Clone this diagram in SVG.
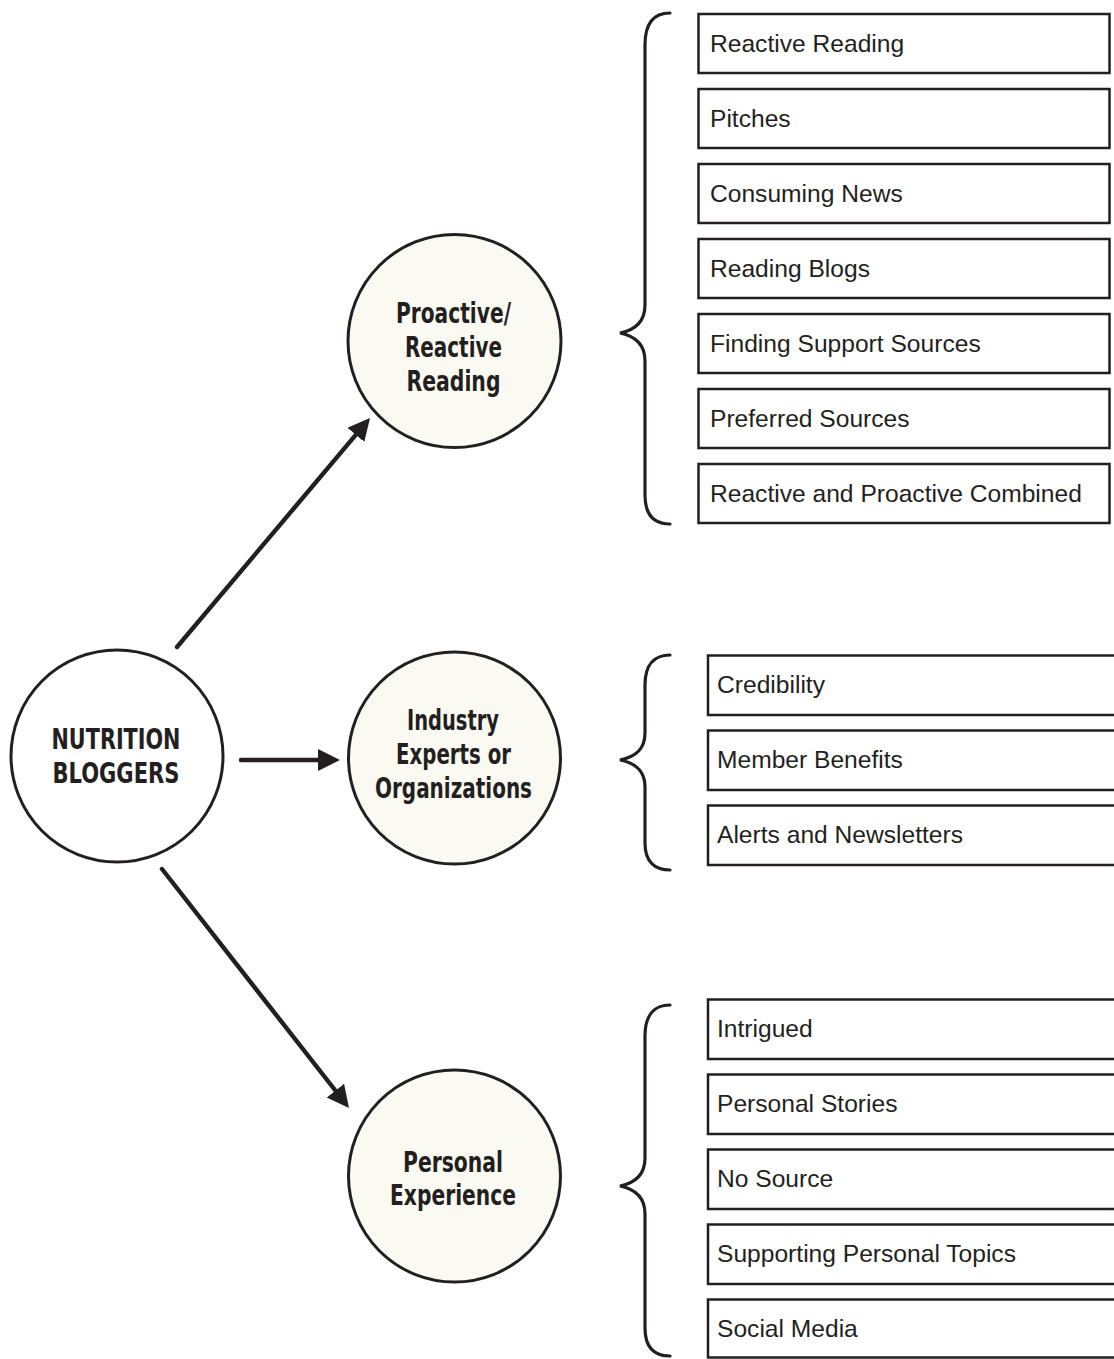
<svg xmlns="http://www.w3.org/2000/svg" width="1114" height="1359" viewBox="0 0 1114 1359">
<style>
.bg{fill:#ffffff}
.circ{fill:#fbfaf2;stroke:#231f20;stroke-width:3}
.circw{fill:#ffffff;stroke:#231f20;stroke-width:3}
.ct{font-family:"Liberation Sans Narrow","DejaVu Sans Condensed","Liberation Sans",sans-serif;font-weight:bold;font-size:28px;fill:#231f20;text-anchor:middle}
.box{fill:#ffffff;stroke:#231f20;stroke-width:2.5}
.bt{font-family:"Liberation Sans",Arial,sans-serif;font-size:24.6px;fill:#231f20}
.brace{fill:none;stroke:#231f20;stroke-width:3.2;stroke-linecap:round}
.arr{stroke:#231f20;stroke-width:4.4;stroke-linecap:round;fill:none}
</style>
<defs>
<marker id="ah" markerUnits="userSpaceOnUse" markerWidth="24" markerHeight="24" refX="10" refY="11" orient="auto">
<path d="M0,0 L22,11 L0,22 z" fill="#231f20"/>
</marker>
</defs>
<rect class="bg" x="0" y="0" width="1114" height="1359"/>

<g id="connectors">
<line class="arr" x1="177" y1="647" x2="362.3" y2="427.2" marker-end="url(#ah)"/>
<line class="arr" x1="241" y1="760" x2="328" y2="760" marker-end="url(#ah)"/>
<line class="arr" x1="162" y1="869" x2="341.6" y2="1098.5" marker-end="url(#ah)"/>
</g>

<g id="node-nutrition">
<circle class="circw" cx="117" cy="756" r="106"/>
<text class="ct" x="116" y="749" textLength="129" lengthAdjust="spacingAndGlyphs">NUTRITION</text>
<text class="ct" x="116" y="783" textLength="127" lengthAdjust="spacingAndGlyphs">BLOGGERS</text>
</g>

<g id="node-proactive">
<circle class="circ" cx="454.5" cy="341" r="106.5"/>
<text class="ct" x="453.5" y="323" textLength="115" lengthAdjust="spacingAndGlyphs">Proactive/</text>
<text class="ct" x="453.5" y="357" textLength="97" lengthAdjust="spacingAndGlyphs">Reactive</text>
<text class="ct" x="453.5" y="391" textLength="94" lengthAdjust="spacingAndGlyphs">Reading</text>
</g>

<g id="node-industry">
<circle class="circ" cx="454.5" cy="758" r="106"/>
<text class="ct" x="453" y="730" textLength="92" lengthAdjust="spacingAndGlyphs">Industry</text>
<text class="ct" x="453.5" y="764" textLength="115" lengthAdjust="spacingAndGlyphs">Experts or</text>
<text class="ct" x="453.5" y="798" textLength="157" lengthAdjust="spacingAndGlyphs">Organizations</text>
</g>

<g id="node-personal">
<circle class="circ" cx="454.5" cy="1176" r="106"/>
<text class="ct" x="453" y="1172" textLength="100" lengthAdjust="spacingAndGlyphs">Personal</text>
<text class="ct" x="453" y="1205" textLength="126" lengthAdjust="spacingAndGlyphs">Experience</text>
</g>

<g id="brace-1">
<path class="brace" d="M670,13 C655,13 645,22 645,45 L645,305 C645,322 635,330 620,333 C635,336 645,344 645,361 L645,495 C645,516 655,524 670,524"/>
</g>
<g id="brace-2">
<path class="brace" d="M670,655 C655,655 645,664 645,685 L645,733 C645,750 635,757 620,760 C635,763 645,770 645,787 L645,843 C645,862 655,870 670,870"/>
</g>
<g id="brace-3">
<path class="brace" d="M670,1005 C655,1005 645,1014 645,1036 L645,1158 C645,1175 635,1183 620,1186 C635,1189 645,1197 645,1214 L645,1328 C645,1348 655,1356 670,1356"/>
</g>

<g id="group-1-items">
<g id="item-reactive-reading"><rect class="box" x="698.5" y="14" width="411" height="59"/><text class="bt" x="710" y="52">Reactive Reading</text></g>
<g id="item-pitches"><rect class="box" x="698.5" y="89" width="411" height="59"/><text class="bt" x="710" y="127">Pitches</text></g>
<g id="item-consuming-news"><rect class="box" x="698.5" y="164" width="411" height="59"/><text class="bt" x="710" y="202">Consuming News</text></g>
<g id="item-reading-blogs"><rect class="box" x="698.5" y="239" width="411" height="59"/><text class="bt" x="710" y="277">Reading Blogs</text></g>
<g id="item-finding-support"><rect class="box" x="698.5" y="314" width="411" height="59"/><text class="bt" x="710" y="352">Finding Support Sources</text></g>
<g id="item-preferred-sources"><rect class="box" x="698.5" y="389" width="411" height="59"/><text class="bt" x="710" y="427">Preferred Sources</text></g>
<g id="item-combined"><rect class="box" x="698.5" y="464" width="411" height="59"/><text class="bt" x="710" y="502">Reactive and Proactive Combined</text></g>
</g>

<g id="group-2-items">
<g id="item-credibility"><rect class="box" x="708" y="655.5" width="420" height="59.5"/><text class="bt" x="717" y="693">Credibility</text></g>
<g id="item-member-benefits"><rect class="box" x="708" y="730.5" width="420" height="59.5"/><text class="bt" x="717" y="768">Member Benefits</text></g>
<g id="item-alerts"><rect class="box" x="708" y="805.5" width="420" height="59.5"/><text class="bt" x="717" y="843">Alerts and Newsletters</text></g>
</g>

<g id="group-3-items">
<g id="item-intrigued"><rect class="box" x="708" y="999.5" width="420" height="59.5"/><text class="bt" x="717" y="1037">Intrigued</text></g>
<g id="item-personal-stories"><rect class="box" x="708" y="1074.5" width="420" height="59.5"/><text class="bt" x="717" y="1112">Personal Stories</text></g>
<g id="item-no-source"><rect class="box" x="708" y="1149.5" width="420" height="59.5"/><text class="bt" x="717" y="1187">No Source</text></g>
<g id="item-supporting"><rect class="box" x="708" y="1224.5" width="420" height="59.5"/><text class="bt" x="717" y="1262">Supporting Personal Topics</text></g>
<g id="item-social-media"><rect class="box" x="708" y="1299.5" width="420" height="58"/><text class="bt" x="717" y="1337">Social Media</text></g>
</g>
</svg>
